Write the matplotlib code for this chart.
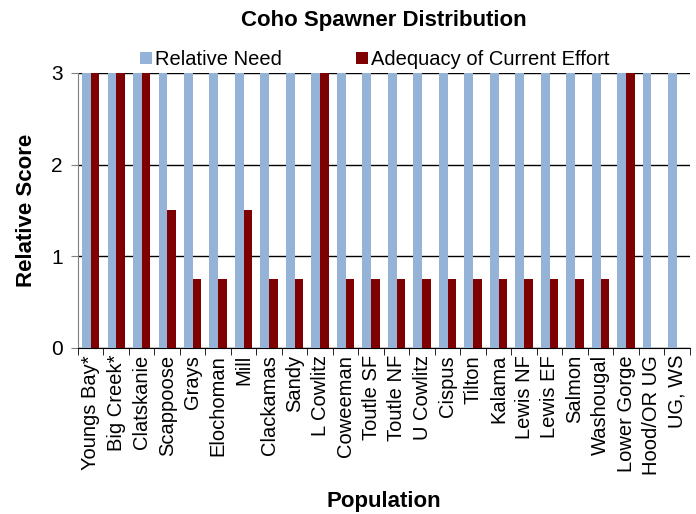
import matplotlib
matplotlib.use("Agg")
import matplotlib.pyplot as plt
import numpy as np

plt.rcParams['font.family'] = ['Liberation Sans', 'DejaVu Sans']

categories = ["Youngs Bay*", "Big Creek*", "Clatskanie", "Scappoose", "Grays", "Elochoman",
              "Mill", "Clackamas", "Sandy", "L Cowlitz", "Coweeman", "Toutle SF", "Toutle NF",
              "U Cowlitz", "Cispus", "Tilton", "Kalama", "Lewis NF", "Lewis EF", "Salmon",
              "Washougal", "Lower Gorge", "Hood/OR UG", "UG, WS"]
relative_need = [3] * 24
adequacy = [3, 3, 3, 1.5, 0.75, 0.75, 1.5, 0.75, 0.75, 3, 0.75, 0.75, 0.75, 0.75, 0.75,
            0.75, 0.75, 0.75, 0.75, 0.75, 0.75, 3, 0, 0]

fig = plt.figure(figsize=(6.96, 5.14), dpi=100)
ax = fig.add_axes([0.112, 0.323, 0.879, 0.535])

x = np.arange(len(categories))
w = 0.34
ax.bar(x - w / 2, relative_need, w, color='#95B3D7', label='Relative Need', zorder=3)
ax.bar(x + w / 2, adequacy, w, color='#7F0000', label='Adequacy of Current Effort', zorder=3)

ax.set_xlim(-0.5, len(categories) - 0.5)
ax.set_ylim(0, 3)
ax.set_yticks([0, 1, 2, 3])
ax.yaxis.grid(True, color='black', linewidth=1, zorder=1)
ax.set_xticks(x)
ax.set_xticklabels(categories, rotation=90, fontsize=14.5)
ax.set_xticks(np.arange(-0.5, len(categories), 1), minor=True)
ax.tick_params(axis='x', which='major', length=0, pad=5)
ax.tick_params(axis='x', which='minor', length=5, direction='out', color='black')
ax.tick_params(axis='y', labelsize=15, length=5, direction='out', color='#808080', pad=6)
for s in ['top', 'right']:
    ax.spines[s].set_visible(False)
ax.spines['left'].set_color('#808080')
ax.spines['bottom'].set_color('black')

ax.set_ylabel('Relative Score', fontsize=16, fontweight='bold', labelpad=10)
ax.set_xlabel('Population', fontsize=16, fontweight='bold', labelpad=12)
ax.set_title('Coho Spawner Distribution', fontsize=16, fontweight='bold', pad=34)

leg = ax.legend(loc='lower center', bbox_to_anchor=(0.485, 0.985), ncol=2, frameon=False,
                fontsize=14.5, handlelength=0.6, handleheight=0.6, handletextpad=0.15,
                columnspacing=3.7, borderaxespad=0)

fig.savefig('out.png', dpi=100)
